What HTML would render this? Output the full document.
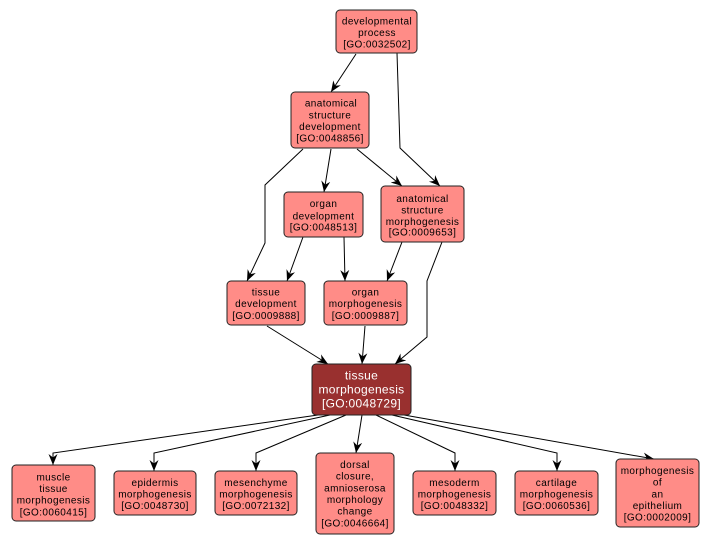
<!DOCTYPE html>
<html><head><meta charset="utf-8"><style>
html,body{margin:0;padding:0;background:#fff;}
svg{display:block;}
text{font-family:"Liberation Sans",Arial,sans-serif;font-size:10px;letter-spacing:0.4px;fill:#000;text-anchor:middle;}
.big{font-size:12px;letter-spacing:0.3px;fill:#fff;}
.n{fill:#ff8c87;stroke:#222;stroke-width:1;}
.d{fill:#99302f;stroke:#222;stroke-width:1;}
.e{fill:none;stroke:#000;stroke-width:1;}
</style></head><body>
<svg width="712" height="544" viewBox="0 0 712 544" xmlns="http://www.w3.org/2000/svg">
<defs>
<marker id="a" markerUnits="userSpaceOnUse" markerWidth="14" markerHeight="12" refX="11" refY="5" orient="auto">
<path d="M11,5 L0,0.5 L3.5,5 L0,9.5 Z" fill="#000"/>
</marker>
</defs>
<!-- edges -->
<polyline class="e" marker-end="url(#a)" points="356,54 331,92"/>
<polyline class="e" marker-end="url(#a)" points="397,53 400,148 440,186"/>
<polyline class="e" marker-end="url(#a)" points="303,149 265,185 265,243 247,281"/>
<polyline class="e" marker-end="url(#a)" points="331,149 324,192"/>
<polyline class="e" marker-end="url(#a)" points="357,149 402,186"/>
<polyline class="e" marker-end="url(#a)" points="303,237 287,281"/>
<polyline class="e" marker-end="url(#a)" points="344,237 345,281"/>
<polyline class="e" marker-end="url(#a)" points="402,242 387,281"/>
<polyline class="e" marker-end="url(#a)" points="442,242 427,281 427,337 395,364"/>
<polyline class="e" marker-end="url(#a)" points="267,326 328,364"/>
<polyline class="e" marker-end="url(#a)" points="365,326 362,364"/>
<polyline class="e" marker-end="url(#a)" points="318,415 53,453 53,465"/>
<polyline class="e" marker-end="url(#a)" points="330,415 154,453 154,471"/>
<polyline class="e" marker-end="url(#a)" points="346,415 256,453 256,471"/>
<polyline class="e" marker-end="url(#a)" points="362,415 356,453"/>
<polyline class="e" marker-end="url(#a)" points="376,415 455,453 455,471"/>
<polyline class="e" marker-end="url(#a)" points="392,415 557,453 557,471"/>
<polyline class="e" marker-end="url(#a)" points="404,415 654,459"/>

<!-- nodes -->
<rect class="n" x="336" y="10" width="81" height="43" rx="4"/>
<text x="377" y="24.5">developmental</text>
<text x="377" y="36">process</text>
<text x="377" y="47.7">[GO:0032502]</text>

<rect class="n" x="291" y="92" width="78" height="56" rx="4"/>
<text x="331" y="106.5">anatomical</text>
<text x="330" y="118.5">structure</text>
<text x="330" y="130.2">development</text>
<text x="330" y="141.5">[GO:0048856]</text>

<rect class="n" x="284" y="192" width="79" height="45" rx="4"/>
<text x="323.5" y="207">organ</text>
<text x="323.5" y="219.5">development</text>
<text x="323.5" y="230.5">[GO:0048513]</text>

<rect class="n" x="381" y="186" width="83" height="56" rx="4"/>
<text x="422.5" y="202">anatomical</text>
<text x="422.5" y="213.5">structure</text>
<text x="422.5" y="225.2">morphogenesis</text>
<text x="422.5" y="235.5">[GO:0009653]</text>

<rect class="n" x="227" y="281" width="78" height="44" rx="4"/>
<text x="266" y="295.5">tissue</text>
<text x="266" y="307.2">development</text>
<text x="266" y="318.8">[GO:0009888]</text>

<rect class="n" x="324" y="281" width="83" height="44" rx="4"/>
<text x="365.5" y="295.5">organ</text>
<text x="365.5" y="307.2">morphogenesis</text>
<text x="365.5" y="318.8">[GO:0009887]</text>

<rect class="d" x="312" y="364" width="99" height="51" rx="4"/>
<text class="big" x="361.5" y="379.5">tissue</text>
<text class="big" x="361.5" y="393.7">morphogenesis</text>
<text class="big" x="361.5" y="407.7">[GO:0048729]</text>

<rect class="n" x="12" y="465" width="83" height="56" rx="4"/>
<text x="53.5" y="480.5">muscle</text>
<text x="53.5" y="492">tissue</text>
<text x="53.5" y="503.7">morphogenesis</text>
<text x="53.5" y="515.3">[GO:0060415]</text>

<rect class="n" x="114" y="471" width="82" height="44" rx="4"/>
<text x="155" y="486">epidermis</text>
<text x="155" y="497.5">morphogenesis</text>
<text x="155" y="509">[GO:0048730]</text>

<rect class="n" x="215" y="471" width="82" height="44" rx="4"/>
<text x="256" y="486">mesenchyme</text>
<text x="256" y="497.5">morphogenesis</text>
<text x="256" y="509">[GO:0072132]</text>

<rect class="n" x="316" y="453" width="78" height="81" rx="4"/>
<text x="355" y="468">dorsal</text>
<text x="355" y="479.7">closure,</text>
<text x="355" y="491.3">amnioserosa</text>
<text x="355" y="503">morphology</text>
<text x="355" y="514.7">change</text>
<text x="355" y="526.3">[GO:0046664]</text>

<rect class="n" x="413" y="471" width="83" height="44" rx="4"/>
<text x="454.5" y="486">mesoderm</text>
<text x="454.5" y="497.5">morphogenesis</text>
<text x="454.5" y="509">[GO:0048332]</text>

<rect class="n" x="515" y="471" width="83" height="44" rx="4"/>
<text x="556.5" y="486">cartilage</text>
<text x="556.5" y="497.5">morphogenesis</text>
<text x="556.5" y="509">[GO:0060536]</text>

<rect class="n" x="616" y="459" width="83" height="68" rx="4"/>
<text x="657.5" y="474">morphogenesis</text>
<text x="657.5" y="485.7">of</text>
<text x="657.5" y="497.3">an</text>
<text x="657.5" y="509">epithelium</text>
<text x="657.5" y="520.7">[GO:0002009]</text>
</svg>
</body></html>
